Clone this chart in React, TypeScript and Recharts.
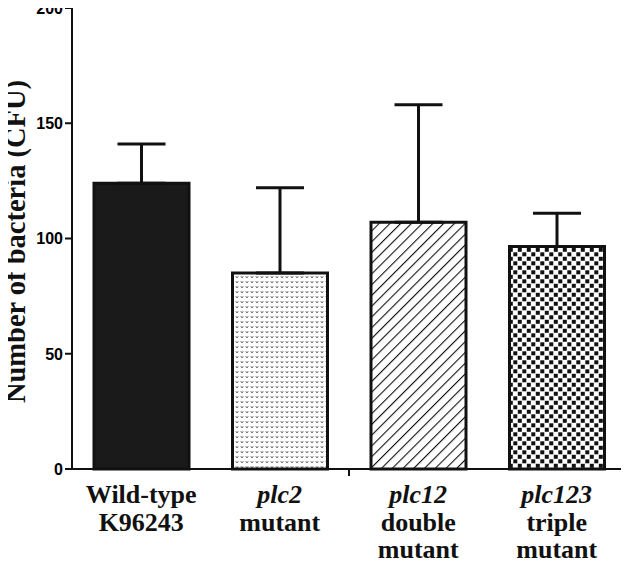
import { Bar, BarChart, Cell, ErrorBar, XAxis, YAxis } from "recharts";

const strains = ["Wild-type K96243", "plc2 mutant", "plc12 double mutant", "plc123 triple mutant"];
const labelLines = [
  ["Wild-type", "K96243"],
  ["plc2", "mutant"],
  ["plc12", "double", "mutant"],
  ["plc123", "triple", "mutant"],
];
const italicFirst = [false, true, true, true];
const meanCfu = [124, 85, 107, 96.5];
const errCfu = [17, 37, 51, 14.5];
const yTicks = [0, 50, 100, 150, 200];
const fills = ["#1a1a1a", "url(#dots)", "url(#hatch)", "url(#checks)"];

const data = strains.map((name, i) => ({
  name,
  cfu: meanCfu[i],
  err: [0, errCfu[i]],
}));

const ink = "#111";
const serif = "'Liberation Serif', 'Times New Roman', serif";
const sans = "'Liberation Sans', Arial, sans-serif";

function Patterns() {
  return (
    <svg width={0} height={0} style={{ position: "absolute" }}>
      <defs>
        <pattern id="dots" width={5} height={5} patternUnits="userSpaceOnUse">
          <rect width={5} height={5} fill="#fff" />
          <path d="M0.8,1.2 L2,3 L3.2,1.2" stroke="#6a6a6a" strokeWidth={1} fill="none" />
        </pattern>
        <pattern
          id="hatch"
          width={7.6}
          height={7.6}
          patternUnits="userSpaceOnUse"
          patternTransform="rotate(45)"
        >
          <rect width={7.6} height={7.6} fill="#fff" />
          <line x1={0} y1={0} x2={0} y2={7.6} stroke={ink} strokeWidth={2.2} />
        </pattern>
        <pattern id="checks" width={9} height={9} patternUnits="userSpaceOnUse">
          <rect width={9} height={9} fill="#fff" />
          <rect x={0.3} y={0.3} width={4} height={4} fill={ink} />
          <rect x={4.8} y={4.8} width={4} height={4} fill={ink} />
        </pattern>
      </defs>
    </svg>
  );
}

function StrainTick(props: any) {
  const { x, y, payload, index, width, visibleTicksCount } = props;
  const lines = labelLines[index] ?? [payload.value];
  const half = payload.offset || width / (visibleTicksCount || 4) / 2;
  return (
    <g>
      {index === 1 && (
        <line x1={x + half} y1={y - 8} x2={x + half} y2={y - 1} stroke={ink} strokeWidth={2} />
      )}
      <text
        x={x}
        y={y}
        textAnchor="middle"
        fontFamily={serif}
        fontWeight="bold"
        fontSize={26}
        fill={ink}
      >
        {lines.map((t, i) => (
          <tspan
            key={i}
            x={x}
            y={y + 26 + i * 27.5}
            fontStyle={i === 0 && italicFirst[index] ? "italic" : "normal"}
          >
            {t}
          </tspan>
        ))}
      </text>
    </g>
  );
}

function CountTick(props: any) {
  const { x, y, payload } = props;
  return (
    <text
      x={x}
      y={y}
      dy="0.36em"
      textAnchor="end"
      fontFamily={sans}
      fontWeight="bold"
      fontSize={16}
      fill="#000"
    >
      {payload.value}
    </text>
  );
}

function YTitle(props: any) {
  const vb = props.viewBox;
  const cx = vb.x + 25;
  const cy = vb.y + vb.height / 2 + 3;
  return (
    <text
      x={cx}
      y={cy}
      transform={`rotate(-90, ${cx}, ${cy})`}
      textAnchor="middle"
      fontFamily={serif}
      fontWeight="bold"
      fontSize={28.5}
      fill={ink}
    >
      Number of bacteria (CFU)
    </text>
  );
}

export default function App() {
  return (
    <div style={{ margin: "-8px 0 0 -8px", width: 629, height: 563, background: "#fff" }}>
      <Patterns />
      <BarChart
        width={629}
        height={563}
        data={data}
        margin={{ top: 8, right: 3, left: 0, bottom: 0 }}
      >
        <XAxis
          dataKey="name"
          height={94}
          interval={0}
          stroke={ink}
          axisLine={{ stroke: ink, strokeWidth: 2 }}
          tickLine={false}
          tick={<StrainTick />}
        />
        <YAxis
          width={72}
          domain={[0, 200]}
          ticks={yTicks}
          interval={0}
          stroke={ink}
          axisLine={{ stroke: ink, strokeWidth: 2 }}
          tickLine={{ stroke: ink, strokeWidth: 2 }}
          tickSize={7}
          tick={<CountTick />}
          label={{ content: <YTitle /> }}
        />
        <Bar
          dataKey="cfu"
          barSize={95}
          stroke={ink}
          strokeWidth={3}
          isAnimationActive={false}
        >
          {data.map((d, i) => (
            <Cell key={d.name} fill={fills[i]} />
          ))}
          <ErrorBar dataKey="err" direction="y" width={24} stroke={ink} strokeWidth={3} />
        </Bar>
      </BarChart>
    </div>
  );
}
